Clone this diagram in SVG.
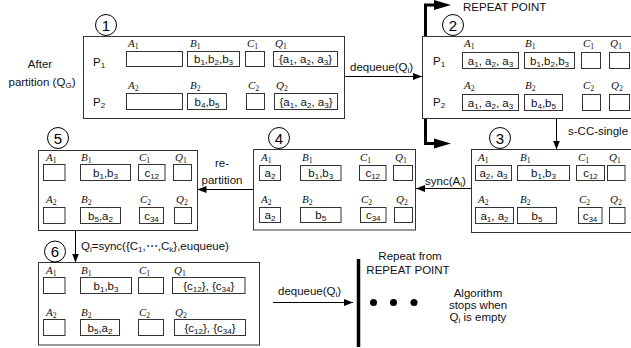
<svg xmlns="http://www.w3.org/2000/svg" width="631" height="348" viewBox="0 0 631 348">
<style>
.ob{fill:#fff;stroke:#333;stroke-width:1}
.ib{fill:#fff;stroke:#333;stroke-width:1}
.t{font-family:"Liberation Sans",Arial,sans-serif;font-size:11.5px;fill:#111}
.c{text-anchor:middle}
.v{font-family:"Liberation Serif","Times New Roman",serif;font-style:italic;font-size:11px;fill:#111}
.sb{font-size:70%;baseline-shift:-2px;font-style:normal}
.num{font-family:"Liberation Sans",Arial,sans-serif;font-size:15px;text-anchor:middle;fill:#000}
.cir{fill:#fff;stroke:#000;stroke-width:1}
.ln{stroke:#000;stroke-width:1;fill:none}
.thick{stroke:#000;stroke-width:3;fill:none}
</style>
<defs>
<marker id="ah" markerUnits="userSpaceOnUse" markerWidth="9" markerHeight="7" refX="9" refY="3.5" orient="auto">
<path d="M0,0 L9,3.5 L0,7 Z" fill="#000"/>
</marker>
</defs>

<g id="connectors">
<line class="ln" x1="344.5" y1="76.5" x2="422" y2="76.5" marker-end="url(#ah)"/>
<text class="t" x="350" y="71">dequeue(Q<tspan class="sb">i</tspan>)</text>
<path class="thick" d="M437,5 H425.5 V143.5 H437"/>
<path d="M434,0 L451,5 L434,10 Z" fill="#000"/>
<path d="M434,138.5 L451,143.5 L434,148.5 Z" fill="#000"/>
<text class="t" x="463" y="11">REPEAT POINT</text>
<line class="ln" x1="556.5" y1="118.5" x2="556.5" y2="149.5" marker-end="url(#ah)"/>
<text class="t" x="568" y="135">s-CC-single</text>
<line class="ln" x1="471.5" y1="188.5" x2="416" y2="188.5" marker-end="url(#ah)"/>
<text class="t" x="425" y="185">sync(A<tspan class="sb">i</tspan>)</text>
<line class="ln" x1="253.5" y1="189.5" x2="197.5" y2="189.5" marker-end="url(#ah)"/>
<text class="t c" x="222" y="167">re-</text>
<text class="t c" x="222" y="184">partition</text>
<line class="ln" x1="75.5" y1="230.5" x2="75.5" y2="262.5" marker-end="url(#ah)"/>
<text class="t" x="81" y="250">Q<tspan class="sb">i</tspan>=sync({C<tspan class="sb">1</tspan>,⋯,C<tspan class="sb">k</tspan>},euqueue)</text>
<line class="ln" x1="273" y1="302.5" x2="353" y2="302.5" marker-end="url(#ah)"/>
<text class="t" x="278" y="295">dequeue(Q<tspan class="sb">i</tspan>)</text>
<line x1="358.5" y1="259" x2="358.5" y2="347" stroke="#000" stroke-width="3.5"/>
<circle cx="373.5" cy="302.5" r="3.5" fill="#000"/>
<circle cx="393.5" cy="302.5" r="3.5" fill="#000"/>
<circle cx="414" cy="302.5" r="3.5" fill="#000"/>
<text class="t c" x="410" y="260">Repeat from</text>
<text class="t c" x="408" y="274">REPEAT POINT</text>
<text class="t c" x="478" y="297">Algorithm</text>
<text class="t c" x="478" y="309">stops when</text>
<text class="t c" x="478" y="321">Q<tspan class="sb">i</tspan> is empty</text>
</g>

<g id="label-after">
<text class="t c" x="40" y="68">After</text>
<text class="t c" x="42" y="86">partition (Q<tspan class="sb">G</tspan>)</text>
</g>

<g id="n1">
<rect class="ob" x="83.5" y="36.5" width="261" height="82"/>
<circle class="cir" cx="106" cy="25" r="10.5"/>
<text class="num" x="106" y="30.5">1</text>
<text class="t" x="93" y="66">P<tspan class="sb">1</tspan></text>
<text class="t" x="93" y="106">P<tspan class="sb">2</tspan></text>
<text class="v" x="128" y="47">A<tspan class="sb">1</tspan></text>
<text class="v" x="190" y="47">B<tspan class="sb">1</tspan></text>
<text class="v" x="247" y="47">C<tspan class="sb">1</tspan></text>
<text class="v" x="275" y="47">Q<tspan class="sb">1</tspan></text>
<rect class="ib" x="126.5" y="51.5" width="56" height="15"/>
<rect class="ib" x="187.5" y="51.5" width="52" height="15"/>
<text class="t c" x="213.5" y="63">b<tspan class="sb">1</tspan>,b<tspan class="sb">2</tspan>,b<tspan class="sb">3</tspan></text>
<rect class="ib" x="245.5" y="51.5" width="19" height="15"/>
<rect class="ib" x="273.5" y="51.5" width="64" height="15"/>
<text class="t c" x="305.5" y="63">{a<tspan class="sb">1</tspan>, a<tspan class="sb">2</tspan>, a<tspan class="sb">3</tspan>}</text>
<text class="v" x="128" y="89">A<tspan class="sb">2</tspan></text>
<text class="v" x="190" y="89">B<tspan class="sb">2</tspan></text>
<text class="v" x="248" y="89">C<tspan class="sb">2</tspan></text>
<text class="v" x="276" y="89">Q<tspan class="sb">2</tspan></text>
<rect class="ib" x="126.5" y="93.5" width="56" height="16"/>
<rect class="ib" x="187.5" y="93.5" width="39" height="16"/>
<text class="t c" x="207" y="105.5">b<tspan class="sb">4</tspan>,b<tspan class="sb">5</tspan></text>
<rect class="ib" x="246.5" y="93.5" width="18" height="16"/>
<rect class="ib" x="274.5" y="93.5" width="63" height="16"/>
<text class="t c" x="306" y="105.5">{a<tspan class="sb">1</tspan>, a<tspan class="sb">2</tspan>, a<tspan class="sb">3</tspan>}</text>
</g>

<g id="n2">
<rect class="ob" x="422.5" y="36.5" width="215" height="82"/>
<circle class="cir" cx="453" cy="25" r="10.5"/>
<text class="num" x="453" y="30.5">2</text>
<text class="t" x="433" y="65">P<tspan class="sb">1</tspan></text>
<text class="t" x="433" y="106">P<tspan class="sb">2</tspan></text>
<text class="v" x="464" y="47">A<tspan class="sb">1</tspan></text>
<text class="v" x="525" y="47">B<tspan class="sb">1</tspan></text>
<text class="v" x="583" y="47">C<tspan class="sb">1</tspan></text>
<text class="v" x="610" y="47">Q<tspan class="sb">1</tspan></text>
<rect class="ib" x="462.5" y="52.5" width="56" height="16"/>
<text class="t c" x="490.5" y="64.5">a<tspan class="sb">1</tspan>, a<tspan class="sb">2</tspan>, a<tspan class="sb">3</tspan></text>
<rect class="ib" x="524.5" y="52.5" width="50" height="16"/>
<text class="t c" x="549.5" y="64.5">b<tspan class="sb">1</tspan>,b<tspan class="sb">2</tspan>,b<tspan class="sb">3</tspan></text>
<rect class="ib" x="581.5" y="52.5" width="19" height="16"/>
<rect class="ib" x="609.5" y="52.5" width="20" height="16"/>
<text class="v" x="464" y="89">A<tspan class="sb">2</tspan></text>
<text class="v" x="525" y="89">B<tspan class="sb">2</tspan></text>
<text class="v" x="583" y="89">C<tspan class="sb">2</tspan></text>
<text class="v" x="611" y="89">Q<tspan class="sb">2</tspan></text>
<rect class="ib" x="462.5" y="94.5" width="56" height="16"/>
<text class="t c" x="490.5" y="106.5">a<tspan class="sb">1</tspan>, a<tspan class="sb">2</tspan>, a<tspan class="sb">3</tspan></text>
<rect class="ib" x="524.5" y="94.5" width="38" height="16"/>
<text class="t c" x="543.5" y="106.5">b<tspan class="sb">4</tspan>,b<tspan class="sb">5</tspan></text>
<rect class="ib" x="582.5" y="94.5" width="18" height="16"/>
<rect class="ib" x="609.5" y="94.5" width="20" height="16"/>
</g>

<g id="n3">
<rect class="ob" x="471.5" y="149.5" width="165" height="83"/>
<circle class="cir" cx="500" cy="138" r="10.5"/>
<text class="num" x="500" y="143.5">3</text>
<text class="v" x="478" y="161">A<tspan class="sb">1</tspan></text>
<text class="v" x="520" y="161">B<tspan class="sb">1</tspan></text>
<text class="v" x="578" y="161">C<tspan class="sb">1</tspan></text>
<text class="v" x="609" y="161">Q<tspan class="sb">1</tspan></text>
<rect class="ib" x="475.5" y="165.5" width="36" height="15"/>
<text class="t c" x="493.5" y="177">a<tspan class="sb">2</tspan>, a<tspan class="sb">3</tspan></text>
<rect class="ib" x="517.5" y="165.5" width="52" height="15"/>
<text class="t c" x="543.5" y="177">b<tspan class="sb">1</tspan>,b<tspan class="sb">3</tspan></text>
<rect class="ib" x="576.5" y="165.5" width="28" height="15"/>
<text class="t c" x="590.5" y="177">c<tspan class="sb">12</tspan></text>
<rect class="ib" x="607.5" y="165.5" width="17.5" height="15"/>
<text class="v" x="478" y="203">A<tspan class="sb">2</tspan></text>
<text class="v" x="520" y="203">B<tspan class="sb">2</tspan></text>
<text class="v" x="579" y="203">C<tspan class="sb">2</tspan></text>
<text class="v" x="610" y="203">Q<tspan class="sb">2</tspan></text>
<rect class="ib" x="475.5" y="207.5" width="38" height="16"/>
<text class="t c" x="494.5" y="219.5">a<tspan class="sb">1</tspan>, a<tspan class="sb">2</tspan></text>
<rect class="ib" x="517.5" y="207.5" width="39" height="16"/>
<text class="t c" x="537" y="219.5">b<tspan class="sb">5</tspan></text>
<rect class="ib" x="578.5" y="207.5" width="23.5" height="16"/>
<text class="t c" x="590" y="219.5">c<tspan class="sb">34</tspan></text>
<rect class="ib" x="609.5" y="207.5" width="15.5" height="16"/>
</g>

<g id="n4">
<rect class="ob" x="253.5" y="149.5" width="162" height="80.5"/>
<circle class="cir" cx="279" cy="138" r="10.5"/>
<text class="num" x="279" y="143.5">4</text>
<text class="v" x="261" y="161">A<tspan class="sb">1</tspan></text>
<text class="v" x="302" y="161">B<tspan class="sb">1</tspan></text>
<text class="v" x="360" y="161">C<tspan class="sb">1</tspan></text>
<text class="v" x="395" y="161">Q<tspan class="sb">1</tspan></text>
<rect class="ib" x="259.5" y="165.5" width="21" height="15"/>
<text class="t c" x="270" y="177">a<tspan class="sb">2</tspan></text>
<rect class="ib" x="300.5" y="165.5" width="40.5" height="15"/>
<text class="t c" x="320.75" y="177">b<tspan class="sb">1</tspan>,b<tspan class="sb">3</tspan></text>
<rect class="ib" x="359.5" y="165.5" width="26.5" height="15"/>
<text class="t c" x="372.75" y="177">c<tspan class="sb">12</tspan></text>
<rect class="ib" x="393.5" y="165.5" width="19" height="15"/>
<text class="v" x="261" y="203">A<tspan class="sb">2</tspan></text>
<text class="v" x="302" y="203">B<tspan class="sb">2</tspan></text>
<text class="v" x="361" y="203">C<tspan class="sb">2</tspan></text>
<text class="v" x="396" y="203">Q<tspan class="sb">2</tspan></text>
<rect class="ib" x="259.5" y="207.5" width="21" height="15"/>
<text class="t c" x="270" y="219">a<tspan class="sb">2</tspan></text>
<rect class="ib" x="300.5" y="207.5" width="40.5" height="15"/>
<text class="t c" x="320.75" y="219">b<tspan class="sb">5</tspan></text>
<rect class="ib" x="360.5" y="207.5" width="25.5" height="15"/>
<text class="t c" x="373.25" y="219">c<tspan class="sb">34</tspan></text>
<rect class="ib" x="394.5" y="207.5" width="18" height="15"/>
</g>

<g id="n5">
<rect class="ob" x="38.5" y="150.5" width="159" height="80"/>
<circle class="cir" cx="58" cy="138" r="10.5"/>
<text class="num" x="58" y="143.5">5</text>
<text class="v" x="46" y="161">A<tspan class="sb">1</tspan></text>
<text class="v" x="81" y="161">B<tspan class="sb">1</tspan></text>
<text class="v" x="139" y="161">C<tspan class="sb">1</tspan></text>
<text class="v" x="175" y="161">Q<tspan class="sb">1</tspan></text>
<rect class="ib" x="43.5" y="164.5" width="21.5" height="16"/>
<rect class="ib" x="80.5" y="164.5" width="50" height="16"/>
<text class="t c" x="105.5" y="176.5">b<tspan class="sb">1</tspan>,b<tspan class="sb">3</tspan></text>
<rect class="ib" x="138.5" y="164.5" width="26.5" height="16"/>
<text class="t c" x="151.75" y="176.5">c<tspan class="sb">12</tspan></text>
<rect class="ib" x="173.5" y="164.5" width="18" height="16"/>
<text class="v" x="46" y="203">A<tspan class="sb">2</tspan></text>
<text class="v" x="81" y="203">B<tspan class="sb">2</tspan></text>
<text class="v" x="140" y="203">C<tspan class="sb">2</tspan></text>
<text class="v" x="176" y="203">Q<tspan class="sb">2</tspan></text>
<rect class="ib" x="43.5" y="207.5" width="21.5" height="16"/>
<rect class="ib" x="80.5" y="207.5" width="40" height="16"/>
<text class="t c" x="100.5" y="219.5">b<tspan class="sb">5</tspan>,a<tspan class="sb">2</tspan></text>
<rect class="ib" x="139.5" y="207.5" width="24" height="16"/>
<text class="t c" x="151.5" y="219.5">c<tspan class="sb">34</tspan></text>
<rect class="ib" x="174.5" y="207.5" width="17" height="16"/>
</g>

<g id="n6">
<rect class="ob" x="38.5" y="262.5" width="221" height="82.5"/>
<circle class="cir" cx="55" cy="251.5" r="10.5"/>
<text class="num" x="55" y="257">6</text>
<text class="v" x="46" y="274">A<tspan class="sb">1</tspan></text>
<text class="v" x="81" y="274">B<tspan class="sb">1</tspan></text>
<text class="v" x="139" y="274">C<tspan class="sb">1</tspan></text>
<text class="v" x="174" y="274">Q<tspan class="sb">1</tspan></text>
<rect class="ib" x="43.5" y="277.5" width="21.5" height="16"/>
<rect class="ib" x="80.5" y="277.5" width="51" height="16"/>
<text class="t c" x="106" y="289.5">b<tspan class="sb">1</tspan>,b<tspan class="sb">3</tspan></text>
<rect class="ib" x="138.5" y="277.5" width="25" height="16"/>
<rect class="ib" x="172.5" y="277.5" width="72.5" height="16"/>
<text class="t c" x="208.75" y="289.5">{c<tspan class="sb">12</tspan>}, {c<tspan class="sb">34</tspan>}</text>
<text class="v" x="46" y="316">A<tspan class="sb">2</tspan></text>
<text class="v" x="81" y="316">B<tspan class="sb">2</tspan></text>
<text class="v" x="139" y="316">C<tspan class="sb">2</tspan></text>
<text class="v" x="175" y="316">Q<tspan class="sb">2</tspan></text>
<rect class="ib" x="43.5" y="319.5" width="21.5" height="16"/>
<rect class="ib" x="80.5" y="319.5" width="39" height="16"/>
<text class="t c" x="100" y="331.5">b<tspan class="sb">5</tspan>,a<tspan class="sb">2</tspan></text>
<rect class="ib" x="138.5" y="319.5" width="25" height="16"/>
<rect class="ib" x="174.5" y="319.5" width="71" height="16"/>
<text class="t c" x="210" y="331.5">{c<tspan class="sb">12</tspan>}, {c<tspan class="sb">34</tspan>}</text>
</g>
</svg>
